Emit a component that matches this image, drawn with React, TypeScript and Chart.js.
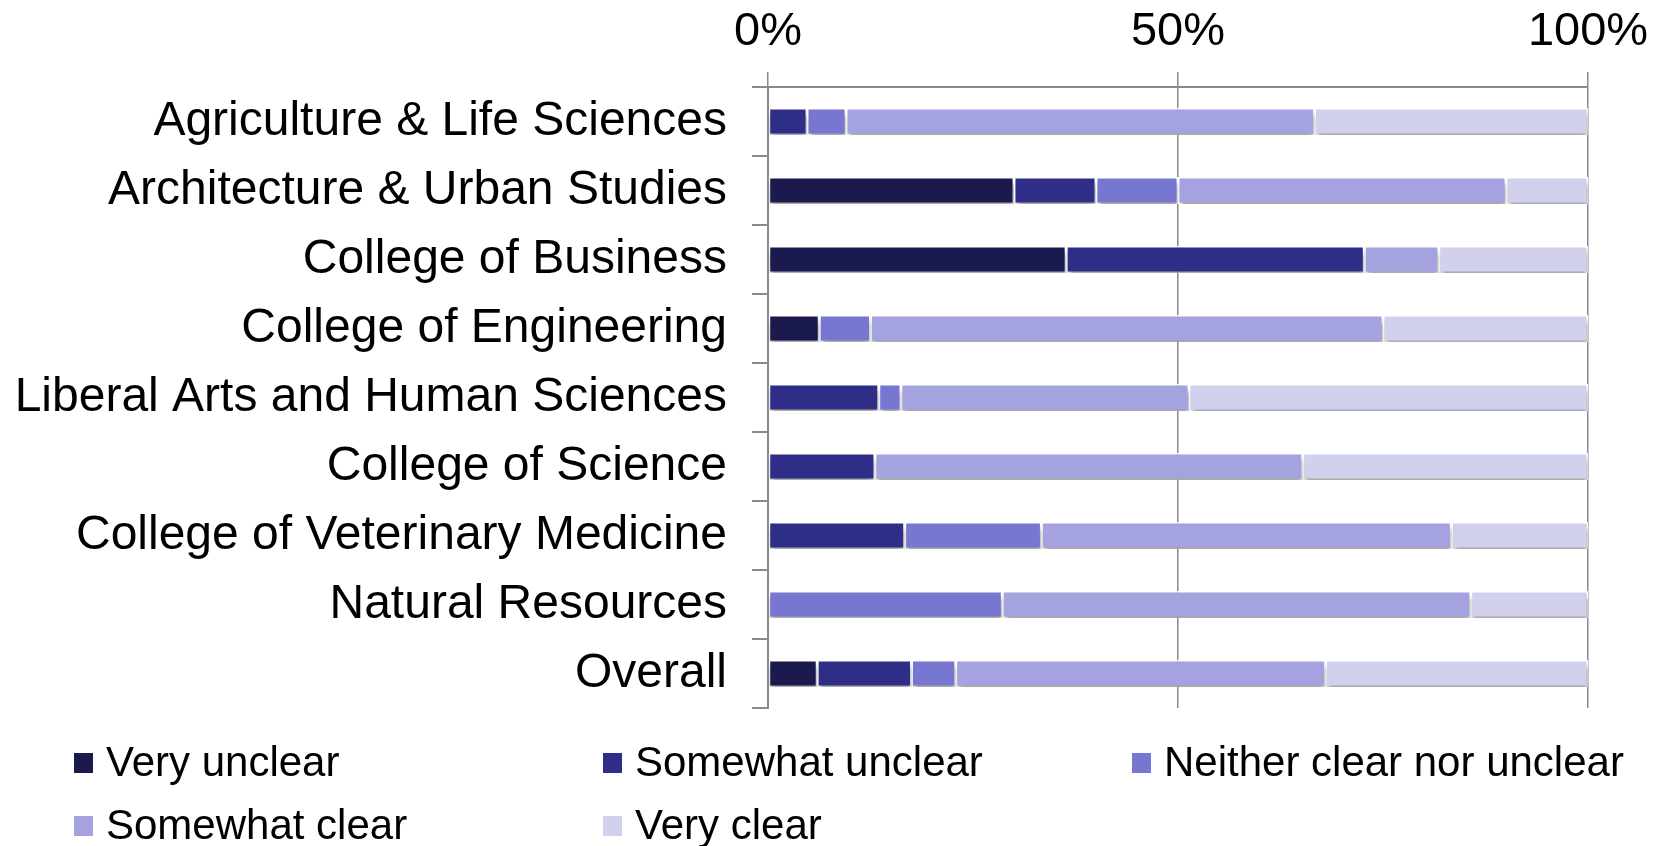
import React, { useEffect, useRef } from "react";
import { Chart, registerables } from "chart.js";

Chart.register(...registerables);

const categories = [
  "Agriculture & Life Sciences",
  "Architecture & Urban Studies",
  "College of Business",
  "College of Engineering",
  "Liberal Arts and Human Sciences",
  "College of Science",
  "College of Veterinary Medicine",
  "Natural Resources",
  "Overall",
];

const seriesNames = [
  "Very unclear",
  "Somewhat unclear",
  "Neither clear nor unclear",
  "Somewhat clear",
  "Very clear",
];

const veryUnclear = [0, 30, 36.36, 6.25, 0, 0, 0, 0, 6.0];
const somewhatUnclear = [4.76, 10, 36.36, 0, 13.51, 13.04, 16.67, 0, 11.5];
const neitherClear = [4.76, 10, 0, 6.25, 2.7, 0, 16.67, 28.57, 5.4];
const somewhatClear = [57.14, 40, 9.09, 62.5, 35.14, 52.17, 50, 57.14, 45.1];
const veryClear = [33.33, 10, 18.18, 25, 48.65, 34.78, 16.67, 14.29, 32.0];

const seriesValues = [veryUnclear, somewhatUnclear, neitherClear, somewhatClear, veryClear];
const seriesColors = ["#1B1A4F", "#2E2D87", "#7776D0", "#A4A3DF", "#D1D1EE"];

const tickValues = [0, 50, 100];

const FONT = "'Liberation Sans', Arial, Helvetica, sans-serif";

export default function App() {
  const ref = useRef<HTMLCanvasElement>(null);

  useEffect(() => {
    document.body.style.margin = "0";
    const canvas = ref.current;
    if (!canvas) return;

    const shadowPlugin = {
      id: "barShadow",
      beforeDatasetsDraw(chart: any) {
        const c = chart.ctx;
        c.save();
        c.shadowColor = "rgba(0,0,0,0.38)";
        c.shadowBlur = 5;
        c.shadowOffsetX = 1;
        c.shadowOffsetY = 5;
      },
      afterDatasetsDraw(chart: any) {
        chart.ctx.restore();
      },
    };

    const legendPlugin = {
      id: "gridLegend",
      afterDraw(chart: any) {
        const c = chart.ctx;
        c.save();
        const colX = [74, 603, 1132];
        const rowY = [763, 826];
        c.font = `42px ${FONT}`;
        c.textBaseline = "middle";
        c.textAlign = "left";
        seriesNames.forEach((name, i) => {
          const col = i % 3;
          const row = Math.floor(i / 3);
          const x = colX[col];
          const y = rowY[row];
          c.fillStyle = seriesColors[i];
          c.fillRect(x, y - 10, 19, 20);
          c.fillStyle = "#000";
          c.fillText(name, x + 32, y + 1);
        });
        c.restore();
      },
    };

    const chart = new Chart(canvas, {
      type: "bar",
      data: {
        labels: categories,
        datasets: seriesNames.map((name, i) => ({
          label: name,
          data: seriesValues[i],
          backgroundColor: seriesColors[i],
          borderColor: "#FFFFFF",
          borderWidth: 1.5,
          borderSkipped: false,
          barPercentage: 0.39,
          categoryPercentage: 1,
        })),
      },
      options: {
        indexAxis: "y",
        animation: false,
        responsive: false,
        devicePixelRatio: 1,
        layout: { padding: { left: 0, right: 77, top: 0, bottom: 138 } },
        plugins: {
          legend: { display: false },
          tooltip: { enabled: false },
        },
        scales: {
          x: {
            position: "top",
            stacked: true,
            min: 0,
            max: 100,
            afterBuildTicks: (s: any) => {
              s.ticks = tickValues.map((v) => ({ value: v }));
            },
            afterFit: (s: any) => {
              s.height = 87;
            },
            ticks: {
              callback: (v: any) => `${v}%`,
              font: { family: FONT, size: 47 },
              color: "#000",
              padding: 12,
              maxRotation: 0,
            },
            grid: {
              color: "#8A8A8A",
              lineWidth: 1.5,
              tickLength: 15,
              drawTicks: true,
            },
            border: { display: true, color: "#8A8A8A", width: 2 },
          },
          y: {
            stacked: true,
            afterFit: (s: any) => {
              s.width = 768;
            },
            ticks: {
              font: { family: FONT, size: 48 },
              color: "#000",
              padding: 25,
            },
            grid: {
              display: true,
              drawOnChartArea: false,
              offset: true,
              tickLength: 16,
              color: "#8A8A8A",
              lineWidth: 2,
            },
            border: { display: true, color: "#8A8A8A", width: 2 },
          },
        },
      },
      plugins: [shadowPlugin, legendPlugin],
    } as any);

    return () => chart.destroy();
  }, []);

  return (
    <div style={{ position: "absolute", left: 0, top: 0, width: 1665, height: 846, background: "#fff" }}>
      <canvas ref={ref} width={1665} height={846} style={{ display: "block" }} />
    </div>
  );
}
